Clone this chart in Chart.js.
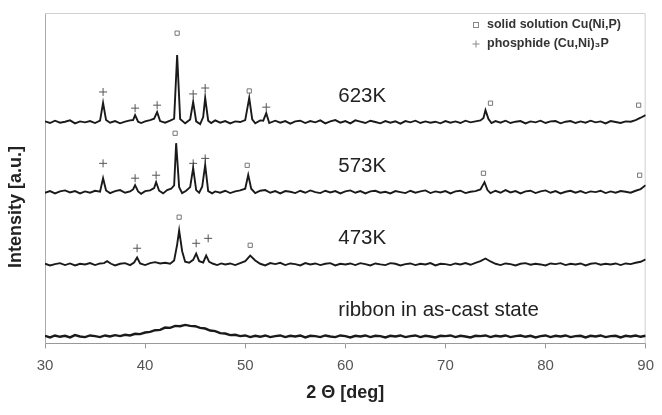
<!DOCTYPE html>
<html>
<head>
<meta charset="utf-8">
<script src="https://cdn.jsdelivr.net/npm/chart.js@4.4.0/dist/chart.umd.min.js"></script>
<style>
  html, body { margin: 0; padding: 0; background: #fff; }
  #wrap { width: 662px; height: 415px; }
</style>
</head>
<body>
<div id="wrap"><canvas id="xrdChart" width="662" height="415"></canvas></div>
<script>
// sample names and vertical offsets of each pattern (a.u.)
const sampleLabels = ['623K', '573K', '473K', 'ribbon in as-cast state'];
const offsets = [67, 45.8, 23.9, 2.1];

// [2theta, intensity above own baseline]
const trace623 = [
  [30,0.2],[30.5,-0.3],[31,0.4],[31.5,-0.2],[32,0.1],[32.5,0.5],[33,-0.4],[33.5,0.2],[34,-0.1],[34.5,0.3],
  [35,-0.3],[35.5,0.4],[35.8,5.8],[36.1,0.6],[36.5,-0.2],[37,0.3],[37.5,-0.4],[38,0.1],[38.5,0.5],[38.8,0.6],
  [39,2.1],[39.3,0.1],[39.6,-0.3],[40,0.2],[40.5,0.6],[40.9,1.0],[41.2,3.0],[41.5,0.3],[42,-0.2],[42.5,0.4],
  [42.9,1.0],[43.2,20.3],[43.5,0.9],[44,-0.4],[44.5,0.8],[44.8,6.1],[45.1,0.2],[45.5,-0.6],[45.8,1.5],[46,7.3],
  [46.3,0.4],[46.6,-0.3],[47,0.5],[47.5,-0.2],[48,0.3],[48.5,-0.4],[49,0.2],[49.5,0.0],[50,0.6],[50.4,7.3],
  [50.7,0.8],[51,-0.4],[51.5,0.5],[51.8,0.4],[52.1,2.7],[52.4,-0.3],[53,0.4],[53.5,-0.2],[54,0.3],[54.5,-0.5],
  [55,0.2],[55.5,0.4],[56,-0.3],[56.5,0.3],[57,-0.1],[57.5,0.5],[58,-0.4],[58.5,0.2],[59,0.6],[59.5,-0.2],
  [60,0.3],[60.5,-0.4],[61,0.5],[61.5,0.1],[62,-0.3],[62.5,0.4],[63,0.0],[63.5,-0.4],[64,0.3],[64.5,-0.2],
  [65,0.2],[65.5,-0.5],[66,0.3],[66.5,-0.1],[67,0.4],[67.5,-0.3],[68,0.2],[68.5,-0.2],[69,0.1],[69.5,-0.4],
  [70,0.3],[70.5,-0.2],[71,0.2],[71.5,-0.3],[72,0.4],[72.5,-0.1],[73,0.2],[73.5,0.5],[73.8,1.2],[74,3.6],
  [74.3,0.9],[74.6,-0.3],[75,0.3],[75.5,-0.2],[76,0.4],[76.5,-0.3],[77,0.1],[77.5,0.3],[78,-0.4],[78.5,0.2],
  [79,-0.1],[79.5,0.4],[80,-0.3],[80.5,0.2],[81,0.3],[81.5,-0.4],[82,0.1],[82.5,0.3],[83,-0.3],[83.5,0.2],
  [84,-0.2],[84.5,0.4],[85,-0.1],[85.5,0.2],[86,-0.4],[86.5,0.3],[87,0.0],[87.5,-0.3],[88,0.2],[88.5,0.1],
  [89,0.6],[89.5,1.3],[90,2.1]
];

const trace573 = [
  [30,-0.2],[30.5,0.3],[31,-0.4],[31.5,0.2],[32,0.5],[32.5,-0.1],[33,0.3],[33.5,-0.4],[34,0.2],[34.5,-0.2],
  [35,0.4],[35.5,0.1],[35.8,4.2],[36.1,0.5],[36.5,-0.3],[37,0.3],[37.5,0.6],[38,-0.2],[38.5,0.2],[38.8,0.8],
  [39,2.1],[39.3,0.2],[39.6,-0.5],[40,0.3],[40.5,0.5],[40.9,1.2],[41.1,3.0],[41.4,0.4],[41.8,-0.4],[42.2,0.6],
  [42.6,1.0],[42.9,2.0],[43.1,14.8],[43.4,1.5],[43.7,-0.3],[44.1,0.4],[44.5,1.5],[44.8,7.3],[45.1,0.6],[45.4,-0.2],
  [45.7,1.6],[46,8.2],[46.3,0.3],[46.7,-0.4],[47,0.2],[47.5,-0.2],[48,0.4],[48.5,-0.3],[49,0.2],[49.5,0.5],
  [50,1.0],[50.3,5.2],[50.6,1.0],[51,-0.3],[51.5,0.4],[52,0.6],[52.5,-0.2],[53,0.3],[53.5,-0.4],[54,0.3],
  [54.5,0.1],[55,-0.3],[55.5,0.4],[56,-0.2],[56.5,0.5],[57,0.0],[57.5,-0.3],[58,0.4],[58.5,-0.1],[59,0.3],
  [59.5,-0.4],[60,0.2],[60.5,0.5],[61,-0.2],[61.5,0.3],[62,-0.4],[62.5,0.2],[63,0.4],[63.5,-0.2],[64,0.1],
  [64.5,-0.4],[65,0.3],[65.5,0.0],[66,-0.3],[66.5,0.4],[67,-0.2],[67.5,0.2],[68,0.5],[68.5,-0.3],[69,0.2],
  [69.5,-0.1],[70,0.3],[70.5,-0.4],[71,0.2],[71.5,0.4],[72,-0.3],[72.5,0.1],[73,0.3],[73.5,0.8],[73.9,3.0],
  [74.2,0.6],[74.5,-0.3],[75,0.4],[75.5,-0.2],[76,0.6],[76.5,-0.1],[77,0.3],[77.5,-0.4],[78,0.2],[78.5,0.4],
  [79,-0.3],[79.5,0.2],[80,0.5],[80.5,-0.2],[81,0.3],[81.5,-0.4],[82,0.1],[82.5,0.4],[83,-0.2],[83.5,0.3],
  [84,-0.3],[84.5,0.2],[85,0.0],[85.5,0.4],[86,-0.3],[86.5,0.2],[87,-0.2],[87.5,0.3],[88,0.1],[88.5,-0.2],
  [89,0.4],[89.5,0.9],[90,2.1]
];

const trace473 = [
  [30,0.2],[30.5,-0.3],[31,0.1],[31.5,0.4],[32,-0.2],[32.5,0.3],[33,-0.3],[33.5,0.2],[34,0.0],[34.5,0.4],
  [35,-0.2],[35.5,0.3],[35.9,0.4],[36.2,1.0],[36.6,0.2],[37,-0.3],[37.5,0.2],[38,0.4],[38.5,-0.2],[38.9,0.6],
  [39.2,2.1],[39.5,0.3],[40,-0.2],[40.5,0.4],[41,0.7],[41.5,0.3],[42,0.5],[42.5,0.2],[42.9,1.2],[43.2,6.0],
  [43.4,10.3],[43.7,4.0],[44,0.8],[44.4,0.5],[44.8,1.4],[45.1,3.3],[45.4,1.0],[45.8,0.6],[46.1,2.7],[46.4,0.8],
  [46.8,0.2],[47.2,-0.2],[47.6,0.3],[48,0.0],[48.5,0.3],[49,-0.2],[49.5,0.4],[50,1.0],[50.5,2.7],[51,1.2],
  [51.5,0.2],[52,-0.3],[52.5,0.4],[53,0.1],[53.5,0.5],[54,-0.2],[54.5,0.3],[55,0.1],[55.5,-0.3],[56,0.4],
  [56.5,0.0],[57,0.3],[57.5,-0.2],[58,0.2],[58.5,0.4],[59,-0.3],[59.5,0.2],[60,0.0],[60.5,0.3],[61,-0.2],
  [61.5,0.4],[62,0.1],[62.5,-0.3],[63,0.3],[63.5,0.0],[64,-0.2],[64.5,0.4],[65,0.2],[65.5,-0.3],[66,0.1],
  [66.5,0.3],[67,-0.2],[67.5,0.2],[68,0.0],[68.5,0.4],[69,-0.3],[69.5,0.2],[70,0.1],[70.5,-0.2],[71,0.3],
  [71.5,0.0],[72,0.4],[72.5,-0.1],[73,0.5],[73.5,1.0],[74,1.8],[74.5,0.9],[75,0.2],[75.5,-0.2],[76,0.3],
  [76.5,0.1],[77,-0.3],[77.5,0.2],[78,0.4],[78.5,-0.1],[79,0.2],[79.5,0.0],[80,-0.3],[80.5,0.3],[81,0.1],
  [81.5,0.4],[82,-0.2],[82.5,0.2],[83,0.0],[83.5,0.3],[84,-0.3],[84.5,0.2],[85,0.4],[85.5,-0.1],[86,0.2],
  [86.5,0.0],[87,0.3],[87.5,-0.2],[88,0.3],[88.5,0.1],[89,0.5],[89.5,0.8],[90,1.5]
];

const traceCast = [
  [30,0.2],[30.5,-0.3],[31,0.3],[31.5,-0.1],[32,0.2],[32.5,-0.3],[33,0.4],[33.5,0.0],[34,-0.2],[34.5,0.3],
  [35,0.1],[35.5,-0.2],[36,0.3],[36.5,0.0],[37,0.4],[37.5,0.1],[38,0.5],[38.5,0.3],[39,0.8],[39.5,0.7],
  [40,1.2],[40.5,1.4],[41,1.9],[41.5,2.0],[42,2.7],[42.5,2.6],[43,3.2],[43.5,3.1],[44,3.5],[44.5,3.2],
  [45,3.1],[45.5,2.6],[46,2.4],[46.5,1.8],[47,1.6],[47.5,1.0],[48,0.9],[48.5,0.4],[49,0.5],[49.5,0.1],
  [50,0.3],[50.5,-0.2],[51,0.2],[51.5,-0.1],[52,0.3],[52.5,-0.2],[53,0.1],[53.5,0.3],[54,-0.2],[54.5,0.2],
  [55,0.0],[55.5,0.3],[56,-0.3],[56.5,0.2],[57,0.1],[57.5,-0.2],[58,0.3],[58.5,0.0],[59,-0.2],[59.5,0.3],
  [60,0.1],[60.5,-0.3],[61,0.2],[61.5,0.0],[62,0.3],[62.5,-0.2],[63,0.2],[63.5,0.1],[64,-0.3],[64.5,0.2],
  [65,0.0],[65.5,0.3],[66,-0.2],[66.5,0.1],[67,0.3],[67.5,-0.2],[68,0.2],[68.5,0.0],[69,-0.3],[69.5,0.2],
  [70,0.1],[70.5,0.3],[71,-0.2],[71.5,0.2],[72,0.0],[72.5,-0.3],[73,0.2],[73.5,0.1],[74,0.3],[74.5,-0.2],
  [75,0.2],[75.5,0.0],[76,0.3],[76.5,-0.2],[77,0.1],[77.5,0.3],[78,-0.1],[78.5,0.2],[79,-0.3],[79.5,0.1],
  [80,0.3],[80.5,-0.2],[81,0.2],[81.5,0.0],[82,0.3],[82.5,-0.2],[83,0.1],[83.5,0.2],[84,-0.3],[84.5,0.2],
  [85,0.0],[85.5,0.3],[86,-0.2],[86.5,0.1],[87,0.2],[87.5,-0.3],[88,0.2],[88.5,0.0],[89,0.3],[89.5,-0.1],
  [90,0.2]
];

// phase markers above the peaks: [2theta, intensity]
const solidSolutionMarks = [
  [43.2,93.9],[50.4,76.4],[74.5,72.7],[89.3,72.1],
  [43.0,63.6],[50.2,53.9],[73.8,51.5],[89.4,50.9],
  [43.4,38.2],[50.5,29.7]
];
const phosphideMarks = [
  [35.8,76.1],[39.0,71.2],[41.2,72.1],[44.8,75.5],[46.0,77.3],[52.1,71.5],
  [35.8,54.5],[39.0,50.0],[41.1,50.9],[44.8,54.5],[46.0,56.0],
  [39.2,28.8],[45.1,30.3],[46.3,31.8]
];
const legendLabels = ['solid solution Cu(Ni,P)', 'phosphide (Cu,Ni)\u2083P'];

const xTicks = [30, 40, 50, 60, 70, 80, 90];

const traces = [trace623, trace573, trace473, traceCast];
const traceWidths = [1.9, 1.9, 1.9, 2.4];

const lineSets = traces.map((t, i) => ({
  type: 'line',
  label: sampleLabels[i],
  data: t.map(p => ({ x: p[0], y: p[1] + offsets[i] })),
  borderColor: '#1a1a1a',
  borderWidth: traceWidths[i],
  pointRadius: 0,
  tension: 0,
  fill: false
}));

const markSets = [
  {
    type: 'scatter',
    label: legendLabels[0],
    data: solidSolutionMarks.map(p => ({ x: p[0], y: p[1] })),
    pointStyle: 'rect',
    pointRadius: 3,
    borderColor: '#777',
    borderWidth: 1,
    backgroundColor: 'rgba(255,255,255,0)'
  },
  {
    type: 'scatter',
    label: legendLabels[1],
    data: phosphideMarks.map(p => ({ x: p[0], y: p[1] })),
    pointStyle: 'cross',
    pointRadius: 4,
    borderColor: '#555',
    borderWidth: 1,
    backgroundColor: '#555'
  }
];

const fontFam = "'Liberation Sans', Arial, sans-serif";

// frame, sample names, y title and the small legend
const decorPlugin = {
  id: 'decor',
  beforeDatasetsDraw(chart) {
    const { ctx, chartArea: a } = chart;
    ctx.save();
    ctx.strokeStyle = '#d0d0d0';
    ctx.lineWidth = 1;
    ctx.beginPath();
    ctx.moveTo(a.left, a.top + 0.5);
    ctx.lineTo(a.right - 0.5, a.top + 0.5);
    ctx.lineTo(a.right - 0.5, a.bottom);
    ctx.stroke();
    ctx.restore();
  },
  afterDraw(chart) {
    const { ctx, scales } = chart;
    const xs = scales.x, ys = scales.y;
    ctx.save();
    ctx.fillStyle = '#222';
    ctx.font = '20.5px ' + fontFam;
    ctx.textBaseline = 'middle';
    ctx.textAlign = 'left';
    sampleLabels.forEach((lab, i) => {
      ctx.fillText(lab, xs.getPixelForValue(59.3), ys.getPixelForValue(offsets[i]) - 26);
    });

    // y axis title
    ctx.save();
    ctx.translate(16, 207);
    ctx.rotate(-Math.PI / 2);
    ctx.textAlign = 'center';
    ctx.font = 'bold 18px ' + fontFam;
    ctx.fillStyle = '#222';
    ctx.fillText('Intensity [a.u.]', 0, 0);
    ctx.restore();

    // legend
    ctx.font = 'bold 12.5px ' + fontFam;
    ctx.fillStyle = '#333';
    const lx = 476, ly = [25, 44];
    ctx.strokeStyle = '#888';
    ctx.lineWidth = 1;
    ctx.strokeRect(lx - 2.5, ly[0] - 2.5, 5, 5);
    ctx.beginPath();
    ctx.moveTo(lx - 3.5, ly[1]); ctx.lineTo(lx + 3.5, ly[1]);
    ctx.moveTo(lx, ly[1] - 3.5); ctx.lineTo(lx, ly[1] + 3.5);
    ctx.stroke();
    ctx.fillText(legendLabels[0], lx + 11, ly[0]);
    ctx.fillText(legendLabels[1], lx + 11, ly[1]);
    ctx.restore();
  }
};

new Chart(document.getElementById('xrdChart'), {
  data: { datasets: lineSets.concat(markSets) },
  options: {
    responsive: false,
    animation: false,
    layout: { padding: { left: 45, right: 7, top: 13, bottom: 7 } },
    plugins: {
      legend: { display: false },
      tooltip: { enabled: false }
    },
    scales: {
      x: {
        type: 'linear',
        min: 30,
        max: 90,
        afterBuildTicks: axis => { axis.ticks = xTicks.map(v => ({ value: v })); },
        border: { display: true, color: '#999', width: 1 },
        grid: { display: true, drawOnChartArea: false, tickLength: 5, color: '#999' },
        ticks: { color: '#555', padding: 8, font: { family: fontFam, size: 15 } },
        title: {
          display: true,
          text: '2 \u0398 [deg]',
          color: '#222',
          padding: { top: 0, bottom: 4 },
          font: { family: fontFam, size: 18, weight: 'bold' }
        }
      },
      y: {
        type: 'linear',
        min: 0,
        max: 100,
        border: { display: true, color: '#aaa', width: 1 },
        grid: { display: false, drawTicks: false },
        ticks: { display: false }
      }
    }
  },
  plugins: [decorPlugin]
});
</script>
</body>
</html>
